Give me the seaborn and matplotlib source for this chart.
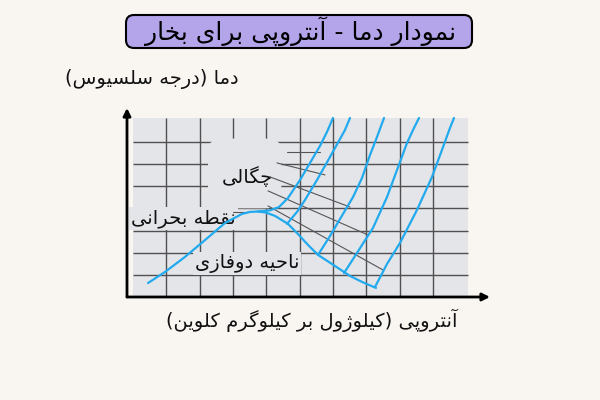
"""Temperature - entropy diagram for steam (Persian labels)"""
import re
import unicodedata

import matplotlib
matplotlib.use("Agg")
import matplotlib.pyplot as plt
import numpy as np
import pandas as pd
import seaborn as sns
from matplotlib.patches import FancyBboxPatch, Rectangle

# Texts
title = "نمودار دما - آنتروپی برای بخار"
y_label = "دما (درجه سلسیوس)"
x_label = "آنتروپی (کیلوژول بر کیلوگرم کلوین)"
label_density = "چگالی"
label_critical = "نقطه بحرانی"
label_two_phase = "ناحیه دوفازی"

# Grid lines (entropy and temperature units)
s_grid = [1, 2, 3, 4, 5, 6, 7, 8, 9]
t_grid = [1, 2, 3, 4, 5, 6, 7]
s_max, t_max = 10.05, 8.1

# Saturation dome (liquid branch, then vapour branch)
liquid_s = [0.45, 0.96, 1.56, 2.16, 2.76, 3.27, 3.51, 3.75]
liquid_t = [0.63, 1.13, 1.81, 2.57, 3.34, 3.75, 3.84, 3.86]
vapour_s = [3.75, 3.99, 4.26, 4.65, 4.95, 5.25, 5.55, 6.06, 6.51, 6.87, 7.29]
vapour_t = [3.86, 3.81, 3.66, 3.30, 2.84, 2.35, 1.90, 1.40, 0.95, 0.68, 0.41]

# Isobars in the superheated region
iso1_s = [3.75, 4.11, 4.38, 4.65, 5.01, 5.31, 5.61, 5.82, 6.00]
iso1_t = [3.86, 3.91, 4.06, 4.47, 5.28, 6.05, 6.82, 7.45, 8.08]
iso2_s = [4.62, 4.92, 5.16, 5.52, 5.91, 6.21, 6.36, 6.51]
iso2_t = [3.30, 3.84, 4.38, 5.28, 6.32, 7.13, 7.54, 8.08]
iso3_s = [5.55, 5.91, 6.21, 6.60, 6.87, 7.11, 7.32, 7.53]
iso3_t = [1.90, 2.75, 3.52, 4.51, 5.37, 6.41, 7.22, 8.08]
iso4_s = [6.33, 6.72, 7.20, 7.62, 7.92, 8.22, 8.43, 8.58]
iso4_t = [1.08, 1.99, 3.12, 4.51, 5.73, 6.95, 7.63, 8.08]
iso5_s = [7.26, 7.62, 8.01, 8.52, 8.97, 9.27, 9.51, 9.63]
iso5_t = [0.45, 1.49, 2.44, 3.93, 5.42, 6.64, 7.63, 8.08]

# Pointer lines (start s, start T, end s, end T)
pointers = [
    (4.62, 6.55, 5.61, 6.55),
    (4.32, 6.05, 5.76, 5.51),
    (4.11, 5.42, 6.51, 4.06),
    (4.05, 4.79, 7.05, 2.80),
    (4.05, 4.11, 7.50, 1.22),
    (3.00, 3.84, 3.45, 3.84),
]

BG = "#f9f6f2"
PANEL = "#e4e5e9"
BLUE = "#22aaee"
GRID = "#505050"
MIRROR = {"(": ")", ")": "("}


def _form(ch, kind):
    name = unicodedata.name(ch, "")
    if not name.startswith("ARABIC LETTER"):
        return None
    try:
        return unicodedata.lookup(f"{name} {kind} FORM")
    except KeyError:
        return None


def _is_letter(ch):
    return unicodedata.name(ch, "").startswith("ARABIC LETTER")


def shape(text):
    """Join Persian letters and lay the line out right to left"""
    out = []
    for run in re.split(r"([\u0600-\u06ff]+)", text):
        if not run or not _is_letter(run[0]):
            out.append(run)
            continue
        for i, ch in enumerate(run):
            prev = i > 0 and _form(run[i - 1], "INITIAL") is not None
            nxt = i < len(run) - 1 and _form(ch, "INITIAL") is not None
            kind = ("MEDIAL" if prev and nxt else "FINAL" if prev
                    else "INITIAL" if nxt else "ISOLATED")
            out.append(_form(ch, kind) or _form(ch, "ISOLATED") or ch)
    logical = "".join(out)
    return "".join(MIRROR.get(c, c) for c in reversed(logical))


sns.set_theme(style="white")
plt.rcParams["font.family"] = ["DejaVu Sans"]

curves = {
    "liquid": (liquid_s, liquid_t), "vapour": (vapour_s, vapour_t),
    "p1": (iso1_s, iso1_t), "p2": (iso2_s, iso2_t), "p3": (iso3_s, iso3_t),
    "p4": (iso4_s, iso4_t), "p5": (iso5_s, iso5_t),
}
df = pd.concat([pd.DataFrame({"s": s, "T": t, "curve": k})
                for k, (s, t) in curves.items()], ignore_index=True)

fig = plt.figure(figsize=(6, 4), dpi=100, facecolor=BG)
ax = fig.add_axes([127 / 600, 103 / 400, 363 / 600, 189 / 400])
ax.set_facecolor("none")
ax.set_xlim(-0.18, 10.71)
ax.set_ylim(0, 8.53)
ax.set_axis_off()

ax.add_patch(Rectangle((0, 0), s_max, t_max, fc=PANEL, ec="none", zorder=0))
ax.vlines(s_grid, 0, t_max, color=GRID, lw=1.0, zorder=1)
ax.hlines(t_grid, 0, s_max, color=GRID, lw=1.0, zorder=1)
# light cloud behind the density label
ax.add_patch(FancyBboxPatch((2.25, 4.0), 2.2, 3.15,
                            boxstyle="round,pad=0,rounding_size=0.5",
                            fc=PANEL, ec="none", zorder=2))

for s0, t0, s1, t1 in pointers:
    ax.plot([s0, s1], [t0, t1], color="#555555", lw=0.8, zorder=3)

sns.lineplot(data=df, x="s", y="T", units="curve", estimator=None, sort=False,
             color=BLUE, lw=1.6, ax=ax, zorder=4)
ax.set_axis_off()

# axes with arrows
arrow = dict(arrowstyle="-|>", color="black", lw=2, mutation_scale=11,
             shrinkA=0, shrinkB=0)
ax.annotate("", xy=(10.71, 0), xytext=(-0.18, 0), arrowprops=arrow,
            annotation_clip=False, zorder=6)
ax.annotate("", xy=(-0.18, 8.53), xytext=(-0.18, 0), arrowprops=arrow,
            annotation_clip=False, zorder=6)

box = dict(boxstyle="square,pad=0.1", fc=PANEL, ec="none")
ax.text(3.42, 5.42, shape(label_density), fontsize=14, ha="center",
        va="center", color="#111111", bbox=box, zorder=2.5)
ax.text(1.52, 3.55, shape(label_critical), fontsize=14, ha="center",
        va="center", color="#111111", bbox=box, zorder=2.5)
ax.text(3.42, 1.5, shape(label_two_phase), fontsize=14, ha="center",
        va="center", color="#111111", bbox=box, zorder=2.5)

fig.text(65 / 600, 1 - 79 / 400, shape(y_label), fontsize=14, ha="left",
         va="center", color="#111111")
fig.text(312 / 600, 1 - 320 / 400, shape(x_label), fontsize=14,
         ha="center", va="center", color="#111111")

fig.patches.append(FancyBboxPatch((1.26, 3.52), 3.46, 0.33,
                                  boxstyle="round,pad=0,rounding_size=0.08",
                                  fc="#b4a5eb", ec="black", lw=1.5,
                                  transform=fig.dpi_scale_trans, figure=fig))
fig.text(0.5, 1 - 31 / 400, shape(title), fontsize=18, ha="center",
         va="center", color="black")

fig.savefig("out.png", dpi=100, facecolor=BG)
